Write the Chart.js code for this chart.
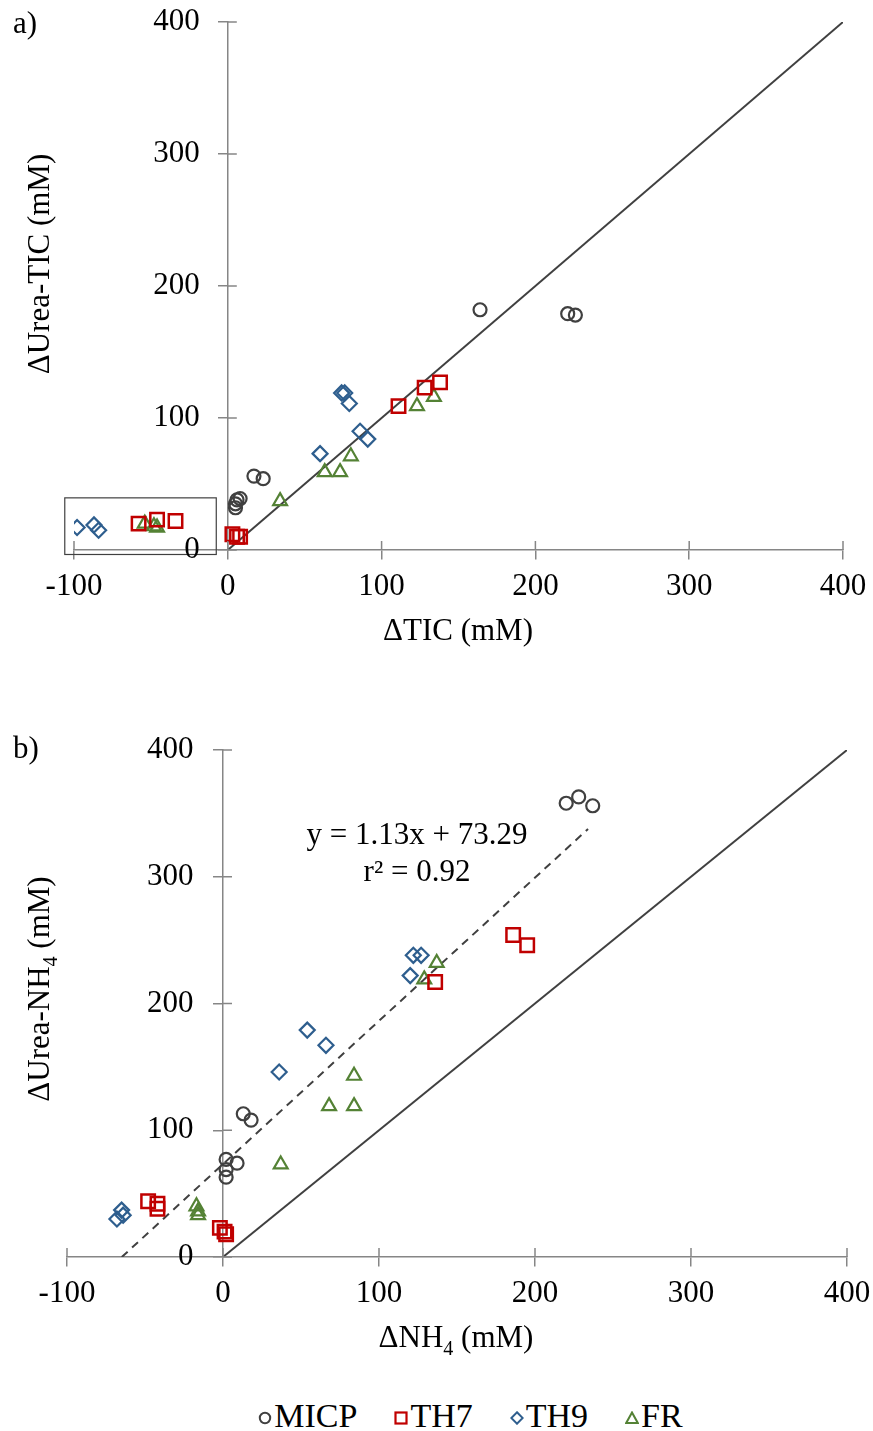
<!DOCTYPE html>
<html>
<head>
<meta charset="utf-8">
<script src="https://cdn.jsdelivr.net/npm/chart.js@4.4.0/dist/chart.umd.min.js"></script>
<style>
    html, body { margin: 0; padding: 0; background: #fff; }
    body { position: relative; width: 873px; height: 1431px; overflow: hidden; font-family: "Liberation Serif", "Times New Roman", serif; }
    #chartA { position: absolute; left: 0; top: 0; }
    #chartB { position: absolute; left: 0; top: 660px; }
    #legend { position: absolute; left: 0; top: 1399px; width: 873px; height: 34px; box-sizing: border-box; padding-left: 68px;
              display: flex; justify-content: center; align-items: center; gap: 37px; font-size: 34px; line-height: 34px; color: #000; }
    #legend .item { display: flex; align-items: center; }
    #legend svg { margin-right: 2px; position: relative; top: 2px; }
</style>
</head>
<body>
<canvas id="chartA" width="873" height="660"></canvas>
<canvas id="chartB" width="873" height="720"></canvas>
<div id="legend"></div>
<script>
    "use strict";

    // a) dTIC vs dUrea-TIC
    var ticMICP = [6, 5, 5, 8, 17, 23, 164, 221, 226];
    var ureaTicMICP = [38, 35, 32, 39, 56, 54, 182, 179, 178];
    var ticTH7 = [3, 6, 8, 111, 128, 138, -58, -46, -34];
    var ureaTicTH7 = [12, 10, 10, 109, 123, 127, 20, 23, 22];
    var ticTH9 = [60, 74, 76, 79, 86, 91, -98, -87, -84];
    var ureaTicTH9 = [73, 119, 119, 111, 90, 84, 17, 19, 15];
    var ticFR = [34, 63, 73, 80, 123, 134, -54, -48, -46];
    var ureaTicFR = [37, 59, 59, 71, 109, 116, 20, 18, 17];

    // b) dNH4 vs dUrea-NH4
    var nh4MICP = [2, 2, 2, 9, 13, 18, 220, 228, 237];
    var ureaNh4MICP = [77, 69, 63, 74, 113, 108, 358, 363, 356];
    var nh4TH7 = [-48, -42, -42, -2, 1, 2, 136, 186, 195];
    var ureaNh4TH7 = [44, 42, 38, 23, 20, 18, 217, 254, 246];
    var nh4TH9 = [-68, -65, -64, 36, 54, 66, 120, 122, 127];
    var ureaNh4TH9 = [30, 37, 33, 146, 179, 167, 222, 238, 238];
    var nh4FR = [-17, -16, -16, 37, 68, 84, 84, 129, 137];
    var ureaNh4FR = [40, 36, 33, 73, 119, 119, 143, 219, 232];

    // 1:1 line and linear fit of panel b
    var oneToOne = [0, 400];
    var fitSlope = 1.13;
    var fitIntercept = 73.29;
    var fitRange = [-64.9, 234];

    // boxed negative points in panel a (data units)
    var boxA = { xMin: -106, xMax: -7.5, yMin: -3.4, yMax: 39.5 };

    var xTicks = [-100, 0, 100, 200, 300, 400];
    var yTicks = [0, 100, 200, 300, 400];

    var seriesNames = ['MICP', 'TH7', 'TH9', 'FR'];
    var seriesColors = ['#404040', '#C00000', '#2E5E8E', '#548235'];
    var seriesShapes = ['circle', 'rect', 'rectRot', 'triangle'];
    var seriesRadius = [6.5, 9.5, 7.5, 8];
    var seriesWidth = [2.2, 2.5, 2.2, 2.2];

    var FONT = '"Liberation Serif", "Times New Roman", serif';
    var AXIS = '#868686';

    Chart.defaults.font.family = FONT;
    Chart.defaults.font.size = 31;
    Chart.defaults.color = '#000';

    function zip(xs, ys) {
        return xs.map(function (x, i) { return { x: x, y: ys[i] }; });
    }

    function scatterSets(xsList, ysList) {
        return seriesNames.map(function (name, i) {
            return {
                label: name,
                data: zip(xsList[i], ysList[i]),
                pointStyle: seriesShapes[i],
                pointRadius: seriesRadius[i],
                borderColor: seriesColors[i],
                backgroundColor: 'rgba(0,0,0,0)',
                pointBorderWidth: seriesWidth[i],
                order: 1
            };
        });
    }

    function lineSet(xs, f, dash) {
        return {
            label: 'line',
            data: xs.map(function (x) { return { x: x, y: f(x) }; }),
            showLine: true,
            pointRadius: 0,
            borderColor: '#404040',
            borderWidth: 2,
            borderDash: dash || [],
            order: 5
        };
    }

    function scaleOpts(ticks, pos, showLabels) {
        return {
            type: 'linear',
            min: ticks[0],
            max: ticks[ticks.length - 1],
            position: pos,
            afterBuildTicks: function (scale) {
                scale.ticks = ticks.map(function (v) { return { value: v }; });
            },
            // keep the plot area exactly where the layout padding puts it
            afterFit: function (scale) {
                scale.paddingLeft = scale.paddingRight = scale.paddingTop = scale.paddingBottom = 0;
            },
            border: { color: AXIS, width: 1.5 },
            grid: { drawOnChartArea: false, drawTicks: true, tickLength: 9, color: AXIS, lineWidth: 1.5 },
            ticks: { display: showLabels, padding: 9, color: '#000', font: { size: 31 } }
        };
    }

    // draw a run of text pieces, pieces with sub:true are subscripts
    function richText(ctx, parts, x, y) {
        var widths = parts.map(function (p) {
            ctx.font = (p.sub ? '20px ' : '31px ') + FONT;
            return ctx.measureText(p.t).width;
        });
        var total = widths.reduce(function (a, b) { return a + b; }, 0);
        var cx = x - total / 2;
        ctx.textAlign = 'left';
        ctx.textBaseline = 'alphabetic';
        parts.forEach(function (p, i) {
            ctx.font = (p.sub ? '20px ' : '31px ') + FONT;
            ctx.fillText(p.t, cx, y + (p.sub ? 8 : 0));
            cx += widths[i];
        });
    }

    var decor = {
        id: 'decor',
        afterDraw: function (chart) {
            var o = chart.options.plugins.decor;
            var ctx = chart.ctx;
            var xs = chart.scales.x, ys = chart.scales.y;
            var x0 = xs.getPixelForValue(0), y0 = ys.getPixelForValue(0);
            ctx.save();

            // inner half of the cross tick marks
            ctx.strokeStyle = AXIS;
            ctx.lineWidth = 1.5;
            ctx.beginPath();
            xs.ticks.forEach(function (t) {
                var px = xs.getPixelForValue(t.value);
                ctx.moveTo(px, y0); ctx.lineTo(px, y0 - 9);
            });
            ys.ticks.forEach(function (t) {
                var py = ys.getPixelForValue(t.value);
                ctx.moveTo(x0, py); ctx.lineTo(x0 + 9, py);
            });
            ctx.stroke();

            if (o.box) {
                var bx1 = xs.getPixelForValue(o.box.xMin), bx2 = xs.getPixelForValue(o.box.xMax);
                var by1 = ys.getPixelForValue(o.box.yMax), by2 = ys.getPixelForValue(o.box.yMin);
                ctx.strokeStyle = '#404040';
                ctx.lineWidth = 1.2;
                ctx.strokeRect(bx1, by1, bx2 - bx1, by2 - by1);
            }

            ctx.fillStyle = '#000';
            ctx.font = '31px ' + FONT;

            // y tick labels, left of the y axis that sits at x = 0
            ctx.textAlign = 'right';
            ctx.textBaseline = 'middle';
            ys.ticks.forEach(function (t) {
                ctx.fillText(String(t.value), x0 - o.labelGap, ys.getPixelForValue(t.value));
            });

            ctx.textAlign = 'left';
            ctx.textBaseline = 'alphabetic';
            ctx.fillText(o.panel, 13, o.panelY);

            richText(ctx, o.xTitle, o.xTitleX, o.xTitleY);

            ctx.save();
            ctx.translate(49, o.yTitleY);
            ctx.rotate(-Math.PI / 2);
            richText(ctx, o.yTitle, 0, 0);
            ctx.restore();

            if (o.notes) {
                o.notes.forEach(function (n) {
                    richText(ctx, [{ t: n.t }], n.x, n.y);
                });
            }
            ctx.restore();
        }
    };

    function makeChart(id, datasets, pad, decorOpts) {
        return new Chart(document.getElementById(id), {
            type: 'scatter',
            data: { datasets: datasets },
            options: {
                responsive: false,
                animation: false,
                events: [],
                layout: { padding: pad },
                scales: {
                    x: scaleOpts(xTicks, { y: 0 }, true),
                    y: scaleOpts(yTicks, { x: 0 }, false)
                },
                plugins: {
                    legend: { display: false },
                    tooltip: { enabled: false },
                    decor: decorOpts
                }
            },
            plugins: [decor]
        });
    }

    // Chart a
    var setsA = scatterSets([ticMICP, ticTH7, ticTH9, ticFR], [ureaTicMICP, ureaTicTH7, ureaTicTH9, ureaTicFR]);
    setsA.push(lineSet(oneToOne, function (x) { return x; }));
    makeChart('chartA', setsA, { left: 74, right: 30, top: 22, bottom: 110 }, {
        panel: 'a)', panelY: 33, labelGap: 28,
        xTitle: [{ t: '\u0394TIC (mM)' }], xTitleX: 458, xTitleY: 640,
        yTitle: [{ t: '\u0394Urea-TIC (mM)' }], yTitleY: 264,
        box: boxA
    });

    // Chart b
    var setsB = scatterSets([nh4MICP, nh4TH7, nh4TH9, nh4FR], [ureaNh4MICP, ureaNh4TH7, ureaNh4TH9, ureaNh4FR]);
    setsB.push(lineSet(oneToOne, function (x) { return x; }));
    setsB.push(lineSet(fitRange, function (x) { return fitSlope * x + fitIntercept; }, [8, 6]));
    makeChart('chartB', setsB, { left: 67, right: 26, top: 90, bottom: 123 }, {
        panel: 'b)', panelY: 98, labelGap: 29.5,
        xTitle: [{ t: '\u0394NH' }, { t: '4', sub: true }, { t: ' (mM)' }], xTitleX: 456, xTitleY: 687,
        yTitle: [{ t: '\u0394Urea-NH' }, { t: '4', sub: true }, { t: ' (mM)' }], yTitleY: 329,
        notes: [
            { t: 'y = ' + fitSlope.toFixed(2) + 'x + ' + fitIntercept.toFixed(2), x: 417, y: 184 },
            { t: 'r\u00b2 = 0.92', x: 417, y: 221 }
        ]
    });

    // Legend
    var shapesSvg = {
        circle: '<circle cx="7" cy="7" r="5.2" fill="none" stroke="C" stroke-width="2"/>',
        rect: '<rect x="1.5" y="1.5" width="11" height="11" fill="none" stroke="C" stroke-width="2.2"/>',
        rectRot: '<polygon points="7,1.3 12.7,7 7,12.7 1.3,7" fill="none" stroke="C" stroke-width="2"/>',
        triangle: '<polygon points="7,1.5 12.8,12 1.2,12" fill="none" stroke="C" stroke-width="2"/>'
    };
    var legend = document.getElementById('legend');
    seriesNames.forEach(function (name, i) {
        var item = document.createElement('span');
        item.className = 'item';
        item.innerHTML = '<svg width="14" height="14" viewBox="0 0 14 14">' +
            shapesSvg[seriesShapes[i]].replace('C', seriesColors[i]) + '</svg><span>' + name + '</span>';
        legend.appendChild(item);
    });
</script>
</body>
</html>
